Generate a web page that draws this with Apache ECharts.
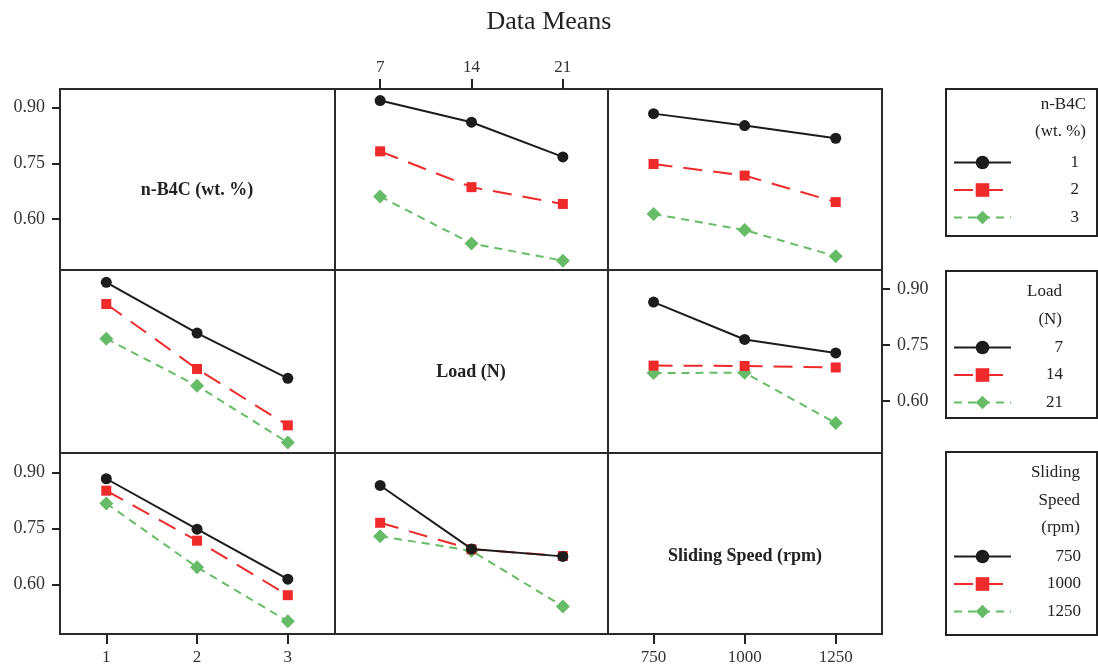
<!DOCTYPE html>
<html><head><meta charset="utf-8">
<script src="https://cdn.jsdelivr.net/npm/echarts@6/dist/echarts.min.js"></script>
<style>html,body{margin:0;padding:0;background:#fff}#c{width:1098px;height:668px}</style>
</head><body><div id="c"></div>
<script>
// ---- data ----
const nB4CLevels = [1, 2, 3];
const loadLevels = [7, 14, 21];
const speedLevels = [750, 1000, 1250];
const yTicks = [0.60, 0.75, 0.90];
// cell means: rows = n-B4C level, cols = Load level
const meansB4CxLoad = [[0.918, 0.860, 0.767], [0.782, 0.686, 0.641], [0.661, 0.535, 0.489]];
// rows = n-B4C level, cols = Speed level
const meansB4CxSpeed = [[0.883, 0.851, 0.817], [0.748, 0.717, 0.646], [0.614, 0.571, 0.501]];
// rows = Load level, cols = Speed level
const meansLoadxSpeed = [[0.865, 0.765, 0.729], [0.695, 0.694, 0.690], [0.675, 0.676, 0.541]];
const factorNames = ['n-B4C (wt. %)', 'Load (N)', 'Sliding Speed (rpm)'];
const legendTitles = [['n-B4C', '(wt. %)'], ['Load', '(N)'], ['Sliding', 'Speed', '(rpm)']];
const chartTitle = 'Data Means';

// ---- helpers ----
const levels = [nB4CLevels, loadLevels, speedLevels];
function cellMean(fa, ia, fb, ib) {
  const v = [undefined, undefined, undefined];
  v[fa] = ia; v[fb] = ib;
  if (v[0] !== undefined && v[1] !== undefined) return meansB4CxLoad[v[0]][v[1]];
  if (v[0] !== undefined && v[2] !== undefined) return meansB4CxSpeed[v[0]][v[2]];
  return meansLoadxSpeed[v[1]][v[2]];
}
const FONT = '"Liberation Serif", "Times New Roman", serif';
const colX = [60, 335, 608], colW = [275, 273, 274];
const rowY = [89, 270, 453], rowH = [181, 183, 181];
const xRange = [[0.49, 3.52], [3.54, 24.46], [625, 1377]];
const yRange = [[0.464, 0.949], [0.461, 0.951], [0.467, 0.952]];
const styles = [
  {color: '#1c1c1c', type: 'solid', symbol: 'circle', size: 11},
  {color: '#ee2a2a', type: [19, 11], symbol: 'rect', size: 10},
  {color: '#66bb66', type: [8, 6], symbol: 'diamond', size: 14}
];

const grid = [], xAxis = [], yAxis = [], series = [];
for (let r = 0; r < 3; r++) {
  for (let c = 0; c < 3; c++) {
    const g = r * 3 + c;
    grid.push({left: colX[c], top: rowY[r], width: colW[c], height: rowH[r], show: true,
      borderColor: '#2a2a2a', borderWidth: 2, backgroundColor: 'transparent'});
    const showX = (c === 0 && r === 2) || (c === 1 && r === 0) || (c === 2 && r === 2);
    const showY = (c === 0 && r === 0) || (c === 0 && r === 2) || (c === 2 && r === 1);
    xAxis.push({gridIndex: g, type: 'value', min: xRange[c][0], max: xRange[c][1],
      position: c === 1 ? 'top' : 'bottom',
      axisLine: {show: false}, splitLine: {show: false},
      axisTick: {show: showX, customValues: levels[c], length: 10, lineStyle: {color: '#222', width: 2}},
      axisLabel: {show: showX, customValues: levels[c], margin: c === 1 ? 13 : 15,
        formatter: v => String(v),
        fontFamily: FONT, fontSize: 17, color: '#333'}});
    yAxis.push({gridIndex: g, type: 'value', min: yRange[r][0], max: yRange[r][1],
      position: c === 2 ? 'right' : 'left',
      axisLine: {show: false}, splitLine: {show: false},
      axisTick: {show: showY, customValues: yTicks, length: 8, lineStyle: {color: '#222', width: 2}},
      axisLabel: {show: showY, customValues: yTicks, margin: 15, formatter: v => v.toFixed(2),
        fontFamily: FONT, fontSize: 18, color: '#333'}});
    if (r === c) continue;
    levels[r].forEach((lv, i) => {
      const s = styles[i];
      series.push({
        type: 'line', name: String(lv), xAxisIndex: g, yAxisIndex: g,
        data: levels[c].map((x, j) => [x, cellMean(r, i, c, j)]),
        symbol: s.symbol, symbolSize: s.size, showSymbol: true,
        lineStyle: {color: s.color, width: 2, type: s.type},
        itemStyle: {color: s.color},
        z: 3 - i, animation: false, silent: true
      });
    });
  }
}

const legendTop = [154, 339, 548];
const legendTextW = [63, 47, 65];
const legend = levels.map((lv, r) => ({
  orient: 'vertical', left: 953, top: legendTop[r], itemWidth: 57, itemHeight: 17, itemGap: 10.5,
  selectedMode: false, padding: 0,
  data: lv.map(String),
  formatter: name => '{a|' + name + '}',
  textStyle: {rich: {a: {width: legendTextW[r], align: 'right', fontFamily: FONT, fontSize: 17,
    color: '#222', lineHeight: 17}}}
}));

const graphic = [];
// legend boxes
const boxes = [[89, 147], [271, 147], [452, 183]];
boxes.forEach(b => graphic.push({type: 'rect', shape: {x: 946, y: b[0], width: 151, height: b[1]},
  style: {fill: 'none', stroke: '#222', lineWidth: 2}, silent: true}));
const headerPos = [[1086, [105, 132]], [1062, [292, 320]], [1080, [473, 501, 528]]];
legendTitles.forEach((lines, r) => lines.forEach((t, k) => graphic.push({type: 'text',
  style: {text: t, x: headerPos[r][0], y: headerPos[r][1][k], align: 'right', verticalAlign: 'middle',
    font: '17px ' + FONT, fill: '#222'}, silent: true})));
// diagonal panel labels
const diagPos = [[197, 190], [471, 372], [745, 556]];
factorNames.forEach((t, i) => graphic.push({type: 'text',
  style: {text: t, x: diagPos[i][0], y: diagPos[i][1], align: 'center', verticalAlign: 'middle',
    font: 'bold 18px ' + FONT, fill: '#222'}, silent: true}));

const chart = echarts.init(document.getElementById('c'));
chart.setOption({
  animation: false,
  backgroundColor: '#fff',
  title: {text: chartTitle, left: 'center', top: 4,
    textStyle: {fontFamily: FONT, fontSize: 26, fontWeight: 'normal', color: '#222'}},
  grid, xAxis, yAxis, series, legend, graphic
});
</script></body></html>
